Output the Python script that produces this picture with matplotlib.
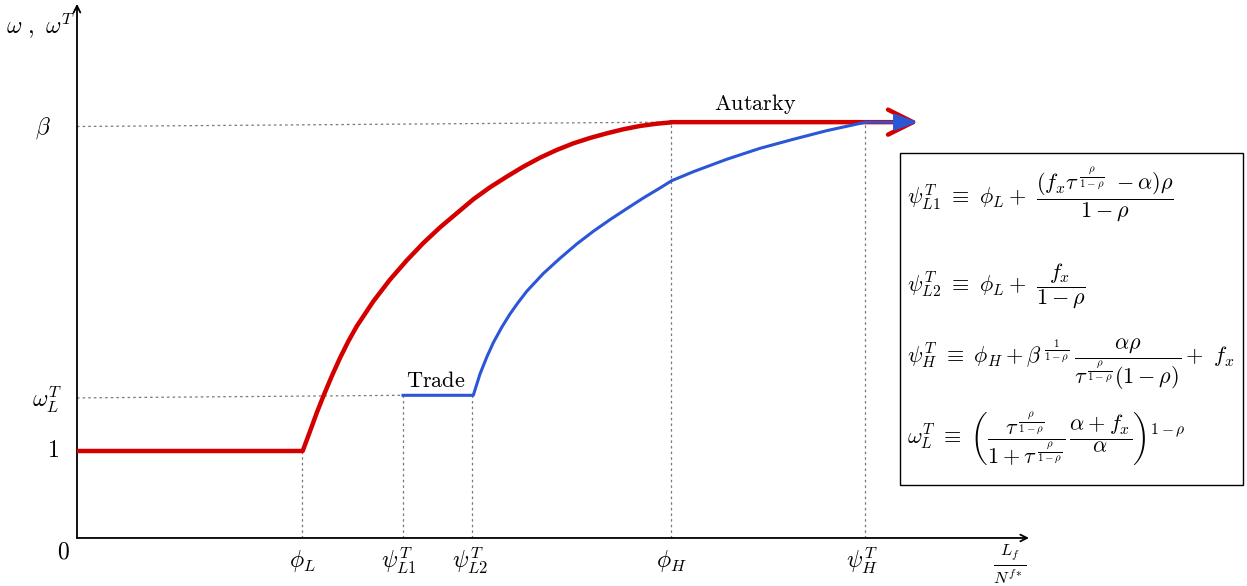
import numpy as np
import matplotlib
matplotlib.use("Agg")
import matplotlib.pyplot as plt
from matplotlib.patches import Rectangle

plt.rcParams['mathtext.fontset'] = 'cm'
plt.rcParams['font.family'] = 'serif'

# key positions on the axes (schematic units)
phi_L = 2.25
psi_L1 = 3.26
psi_L2 = 3.95
phi_H = 5.94
psi_H = 7.88
x_end = 8.41

one = 1.0
omega_L = 1.64
beta = 4.78

# autarky curve (red)
red_x = [0.0, 2.257, 2.33, 2.397, 2.463, 2.547, 2.63, 2.713, 2.797, 2.963, 3.13, 3.297,
         3.463, 3.63, 3.797, 3.963, 4.13, 4.297, 4.463, 4.63, 4.797, 4.963, 5.13, 5.297,
         5.463, 5.63, 5.797, 5.947]
red_y = [1.0, 1.0, 1.226, 1.437, 1.629, 1.858, 2.069, 2.26, 2.433, 2.72, 2.97, 3.19,
         3.39, 3.57, 3.732, 3.893, 4.031, 4.153, 4.268, 4.371, 4.46, 4.536, 4.598, 4.651,
         4.698, 4.736, 4.762, 4.778]

# trade curve (blue)
blue_x = [3.26, 3.963, 4.03, 4.097, 4.163, 4.247, 4.33, 4.413, 4.497, 4.663, 4.83, 4.997,
          5.163, 5.33, 5.497, 5.663, 5.83, 5.947, 6.163, 6.497, 6.83, 7.163, 7.497, 7.88]
blue_y = [1.64, 1.64, 1.885, 2.077, 2.245, 2.421, 2.575, 2.709, 2.835, 3.04, 3.215, 3.379,
          3.525, 3.659, 3.785, 3.908, 4.023, 4.107, 4.21, 4.353, 4.479, 4.583, 4.682, 4.778]

xlabels = [r'$\phi_L$', r'$\psi^T_{L1}$', r'$\psi^T_{L2}$', r'$\phi_H$', r'$\psi^T_H$']
xlabel_pos = [phi_L, psi_L1 - 0.04, psi_L2 - 0.02, phi_H, psi_H - 0.03]

eqs = [
    r'$\psi^T_{L1}\ \equiv\ \phi_L +\ \dfrac{(f_x\tau^{\,\frac{\rho}{1-\rho}}\ - \alpha)\rho}{1-\rho}$',
    r'$\psi^T_{L2}\ \equiv\ \phi_L +\ \dfrac{f_x}{1-\rho}$',
    r'$\psi^T_{H}\ \equiv\ \phi_H + \beta^{\,\frac{1}{1-\rho}}\,\dfrac{\alpha\rho}{\tau^{\,\frac{\rho}{1-\rho}}(1-\rho)} +\ f_x$',
    r'$\omega^T_{L}\ \equiv\ \left(\dfrac{\tau^{\,\frac{\rho}{1-\rho}}}{1+\tau^{\,\frac{\rho}{1-\rho}}}\,\dfrac{\alpha+f_x}{\alpha}\right)^{1-\rho}$',
]
eq_y = [3.94, 2.89, 1.99, 1.13]

red = '#d40000'
blue = '#2b56d6'
grey = '#777777'
fs = 17

fig = plt.figure(figsize=(12.47, 5.86), dpi=100)
ax = fig.add_axes([0, 0, 1, 1])
ax.set_xlim(-0.77, 11.70)
ax.set_ylim(-0.552, 6.184)
ax.axis('off')

# axes with arrows
ax.annotate('', xy=(9.52, 0), xytext=(0, 0),
            arrowprops=dict(arrowstyle='->', lw=1.3, color='black', shrinkA=0, shrinkB=0, mutation_scale=12))
ax.annotate('', xy=(0, 6.14), xytext=(0, 0),
            arrowprops=dict(arrowstyle='->', lw=1.3, color='black', shrinkA=0, shrinkB=0, mutation_scale=12))

# dotted guides
dot = dict(color=grey, lw=0.9, ls=(0, (2, 2.5)))
ax.plot([0, phi_H], [beta - 0.05, beta], **dot)
ax.plot([0, psi_L1], [omega_L - 0.03, omega_L], **dot)
for xv, yv in [(phi_L, one), (psi_L1, omega_L), (psi_L2, omega_L), (phi_H, beta), (psi_H, beta)]:
    ax.plot([xv, xv], [0, yv], **dot)

# curves
ax.plot(red_x, red_y, color=red, lw=3.2, solid_capstyle='butt', solid_joinstyle='round', zorder=3)
ax.annotate('', xy=(x_end, beta), xytext=(phi_H, beta),
            arrowprops=dict(arrowstyle='->,head_length=0.9,head_width=0.45', lw=3.2, color=red,
                            shrinkA=0, shrinkB=0, mutation_scale=20), zorder=3)
ax.plot(blue_x, blue_y, color=blue, lw=2.2, solid_joinstyle='round', zorder=4)
ax.annotate('', xy=(x_end, beta), xytext=(psi_H, beta),
            arrowprops=dict(arrowstyle='-|>,head_length=0.7,head_width=0.25', lw=2.0, color=blue,
                            shrinkA=0, shrinkB=0, mutation_scale=20), zorder=4)

ax.text(3.59, 1.80, r'$\mathrm{Trade}$', fontsize=16, ha='center', va='center')
ax.text(6.78, 4.99, r'$\mathrm{Autarky}$', fontsize=16, ha='center', va='center')

# y labels
ax.text(-0.36, 5.88, r'$\omega\ ,\ \omega^T$', fontsize=fs, ha='center', va='center')
ax.text(-0.34, 4.71, r'$\beta$', fontsize=fs, ha='center', va='center')
ax.text(-0.30, 1.59, r'$\omega^T_L$', fontsize=fs, ha='center', va='center')
ax.text(-0.24, 1.0, r'$1$', fontsize=fs, ha='center', va='center')
ax.text(-0.14, -0.16, r'$0$', fontsize=fs, ha='center', va='center')

# x labels
for lab, xv in zip(xlabels, xlabel_pos):
    ax.text(xv, -0.26, lab, fontsize=fs, ha='center', va='center')
ax.text(9.33, -0.30, r'$\frac{L_f}{N^{f*}}$', fontsize=fs, ha='center', va='center')

# formula box
ax.add_patch(Rectangle((8.23, 0.61), 3.43, 3.82, fill=False, lw=1.0, ec='black', clip_on=False))
for s, yv in zip(eqs, eq_y):
    ax.text(8.30, yv, s, fontsize=16, ha='left', va='center')

fig.savefig('out.png', dpi=100)
